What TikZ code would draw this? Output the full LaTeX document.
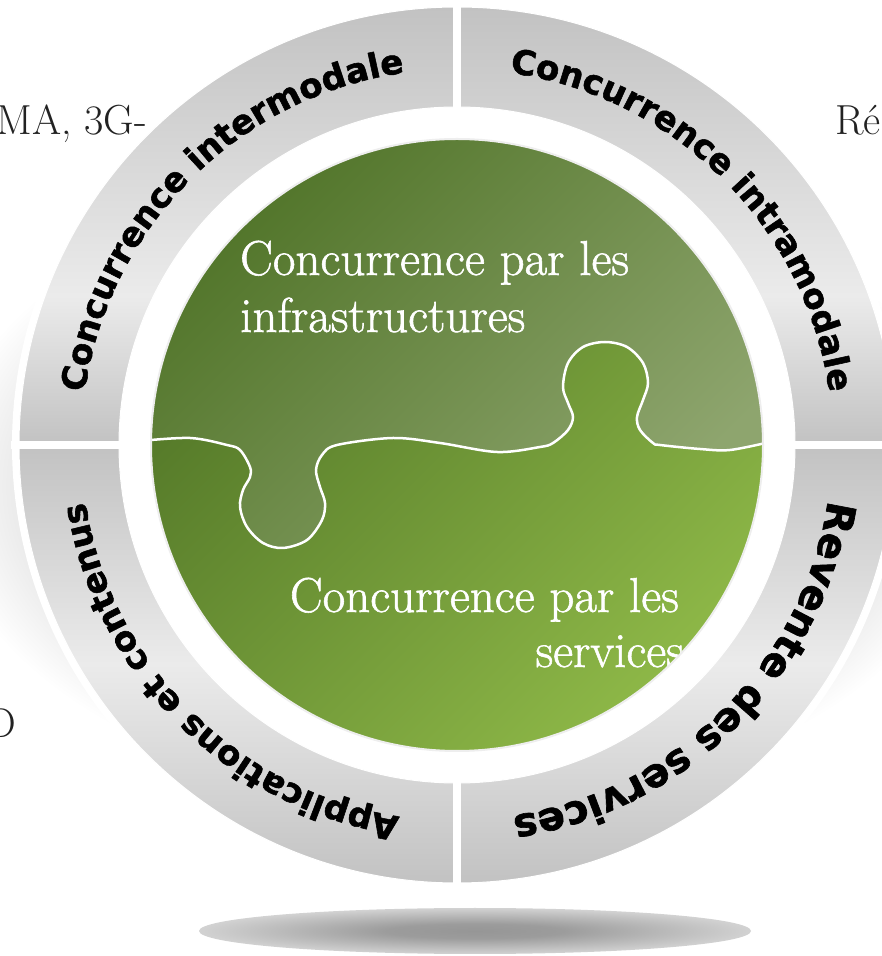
\documentclass[tikz,border=0pt]{standalone}
\usepackage{fontspec}
\newfontfamily\ringfont{DejaVu Sans}[BoldFeatures={FakeBold=1.6}]
\newfontfamily\greenfont{Latin Modern Roman}[FakeBold=1.2]
\usetikzlibrary{decorations.text}
\definecolor{rgA}{HTML}{C2C2C2}
\definecolor{rgB}{HTML}{EBEBEB}
\definecolor{glowA}{HTML}{DADADA}
\definecolor{shA}{HTML}{969696}
\definecolor{shB}{HTML}{9C9C9C}
\definecolor{shC}{HTML}{D2D2D2}
\definecolor{gA}{HTML}{4D7125}
\definecolor{gB}{HTML}{6C9134}
\definecolor{gC}{HTML}{8DB747}
\definecolor{pA}{HTML}{4F7327}
\definecolor{pB}{HTML}{708D4C}
\definecolor{pC}{HTML}{8EA56E}
\definecolor{sidegray}{HTML}{222222}
\definecolor{circedge}{HTML}{EEEEEE}
\pgfdeclareverticalshading{ringtopshade}{100bp}{color(0bp)=(rgA); color(25bp)=(rgA); color(42bp)=(rgB); color(75bp)=(rgA); color(100bp)=(rgA)}
\pgfdeclareverticalshading{ringbotshade}{100bp}{color(0bp)=(rgA); color(25bp)=(rgA); color(50bp)=(rgB); color(75bp)=(rgA); color(100bp)=(rgA)}
\pgfdeclareradialshading{glowshade}{\pgfpoint{0bp}{0bp}}{color(0bp)=(glowA); color(18bp)=(glowA); color(25bp)=(white); color(50bp)=(white)}
\pgfdeclareradialshading{shadowshade}{\pgfpoint{0bp}{0bp}}{color(0bp)=(shA); color(8bp)=(shB); color(25bp)=(shC); color(50bp)=(shC)}
\tikzset{
  sidetext/.style={inner sep=0pt, text=sidegray, font=\fontsize{42}{48}\selectfont},
  greentext/.style={inner sep=0pt, text=white, font=\greenfont\fontsize{49}{58}\selectfont},
  ringsector/.style={draw=white, line width=1pt},
  ringlabel/.style 2 args={decorate, decoration={text along path, text align=center,
     text={|\ringfont\bfseries\fontsize{#1}{#1}\selectfont|#2}}},
}
\begin{document}
\begin{tikzpicture}[x=1pt,y=1pt]
\useasboundingbox (0,0) rectangle (882,956);
\clip (0,0) rectangle (882,956);
\fill[white] (0,0) rectangle (882,956);
\coordinate (C) at (457,511);
% soft glow behind the ring
\path[shading=glowshade] (457,470) ellipse [x radius=520, y radius=320];
% background text fragments
\node[sidetext, anchor=base east] (tMA) at (147,821) {MA, 3G-};
\node[sidetext, anchor=base west] (tRe) at (835,821) {Ré};
\node[sidetext, anchor=base east] (tD) at (16,218) {D};
% floor shadow
\path[shading=shadowshade] (475,25) ellipse [x radius=276, y radius=23];
% white halo
\fill[white] (C) circle (445);
% ring sectors
\path[ringsector, shading=ringtopshade] (C) ++(0:338) -- ++(0:100) arc[start angle=0, end angle=90, radius=438] -- ++(270:100) arc[start angle=90, end angle=0, radius=338] -- cycle;
\path[ringsector, shading=ringtopshade] (C) ++(90:338) -- ++(90:100) arc[start angle=90, end angle=180, radius=438] -- ++(0:100) arc[start angle=180, end angle=90, radius=338] -- cycle;
\path[ringsector, shading=ringbotshade] (C) ++(180:338) -- ++(180:100) arc[start angle=180, end angle=270, radius=438] -- ++(90:100) arc[start angle=270, end angle=180, radius=338] -- cycle;
\path[ringsector, shading=ringbotshade] (C) ++(270:338) -- ++(270:100) arc[start angle=270, end angle=360, radius=438] -- ++(180:100) arc[start angle=360, end angle=270, radius=338] -- cycle;
% gaps between sectors
\fill[white] (453,60) rectangle (461,956);
\fill[white] (11,507) rectangle (882,515);
% ring labels
\path[ringlabel={34}{Concurrence intermodale}] (C) ++(178:376) arc[start angle=178, end angle=92, radius=376];
\path[ringlabel={34}{Concurrence intramodale}] (C) ++(88:376) arc[start angle=88, end angle=2, radius=376];
\path[ringlabel={40}{Revente des services}] (C) ++(-2:375) arc[start angle=-2, end angle=-88, radius=375];
\path[ringlabel={34}{Applications et contenus}] (C) ++(268:376) arc[start angle=268, end angle=182, radius=376];
% green puzzle disc
\shade[top color=gA, middle color=gB, bottom color=gC, shading angle=45] (C) circle (306);
\begin{scope}
\clip (C) circle (306);
\shade[top color=pA, middle color=pB, bottom color=pC, shading angle=45]
  plot[smooth, tension=0.55] coordinates {(140,515) (190,518) (227,511) (240,506) (250,489) (250,479) (243,466) (240,449) (247,429) (263,413) (283,408) (307,416) (322,436) (325,453) (320,469) (316,486) (322,501) (337,511) (393,518) (440,513) (497,504) (540,509) (553,513) (568,526) (573,539) (568,553) (563,569) (568,593) (583,609) (605,614) (627,609) (643,593) (648,573) (643,556) (637,539) (640,526) (653,513) (660,511) (700,507) (730,506) (770,514)}
  -- (770,830) -- (140,830) -- cycle;
\draw[white, line width=2.5pt]
  plot[smooth, tension=0.55] coordinates {(140,515) (190,518) (227,511) (240,506) (250,489) (250,479) (243,466) (240,449) (247,429) (263,413) (283,408) (307,416) (322,436) (325,453) (320,469) (316,486) (322,501) (337,511) (393,518) (440,513) (497,504) (540,509) (553,513) (568,526) (573,539) (568,553) (563,569) (568,593) (583,609) (605,614) (627,609) (643,593) (648,573) (643,556) (637,539) (640,526) (653,513) (660,511) (700,507) (730,506) (770,514)};
\node[greentext, anchor=base west] (inf1) at (240,681) {Concurrence par les};
\node[greentext, anchor=base west] (inf2) at (240,624) {infrastructures};
\node[greentext, anchor=base east] (srv1) at (679,344) {Concurrence par les};
\node[greentext, anchor=base east] (srv2) at (684,289) {services};
\end{scope}
\draw[circedge, line width=2pt] (C) circle (306);
\end{tikzpicture}
\end{document}
